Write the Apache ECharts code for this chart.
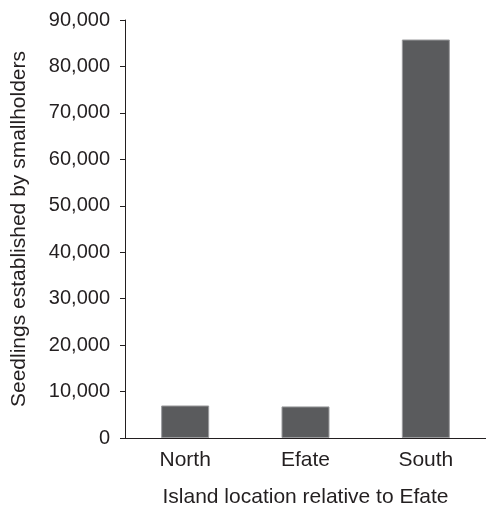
<!DOCTYPE html>
<html>
<head>
<meta charset="utf-8">
<script src="https://cdn.jsdelivr.net/npm/echarts@6/dist/echarts.min.js"></script>
<style>html,body{margin:0;padding:0;background:#fff;overflow:hidden}#c{width:486px;height:513px}</style>
</head>
<body>
<div id="c"></div>
<script>
const categories = ['North', 'Efate', 'South'];
const seedlings = [7000, 6800, 85800];
const yTicks = [0, 10000, 20000, 30000, 40000, 50000, 60000, 70000, 80000, 90000];

const chart = echarts.init(document.getElementById('c'), null, {renderer: 'canvas'});
const font = 'Liberation Sans, Arial, Helvetica, sans-serif';
const ink = '#231f20';
chart.setOption({
  animation: false,
  backgroundColor: '#fff',
  grid: {left: 125, right: -3, top: 20, bottom: 69, containLabel: false},
  xAxis: {
    type: 'category',
    data: categories,
    name: 'Island location relative to Efate',
    nameLocation: 'middle',
    nameGap: 49,
    nameTextStyle: {fontFamily: font, fontSize: 21, color: ink, verticalAlign: 'top'},
    axisLine: {lineStyle: {color: ink, width: 1}},
    axisTick: {show: false},
    axisLabel: {fontFamily: font, fontSize: 21, color: ink, margin: 12}
  },
  yAxis: {
    type: 'value',
    min: yTicks[0],
    max: yTicks[yTicks.length - 1],
    interval: 10000,
    name: 'Seedlings established by smallholders',
    nameLocation: 'middle',
    nameGap: 95,
    nameTextStyle: {fontFamily: font, fontSize: 21, color: ink},
    axisLine: {show: true, lineStyle: {color: ink, width: 1}},
    axisTick: {show: true, length: 5, lineStyle: {color: ink}},
    splitLine: {show: false},
    axisLabel: {
      fontFamily: font, fontSize: 20, color: ink, margin: 15,
      formatter: v => v.toLocaleString('en-US')
    }
  },
  series: [{
    type: 'bar',
    data: seedlings,
    barWidth: 48,
    itemStyle: {color: '#5a5b5d', borderColor: '#9a9b9d', borderWidth: 1}
  }]
});
</script>
</body>
</html>
